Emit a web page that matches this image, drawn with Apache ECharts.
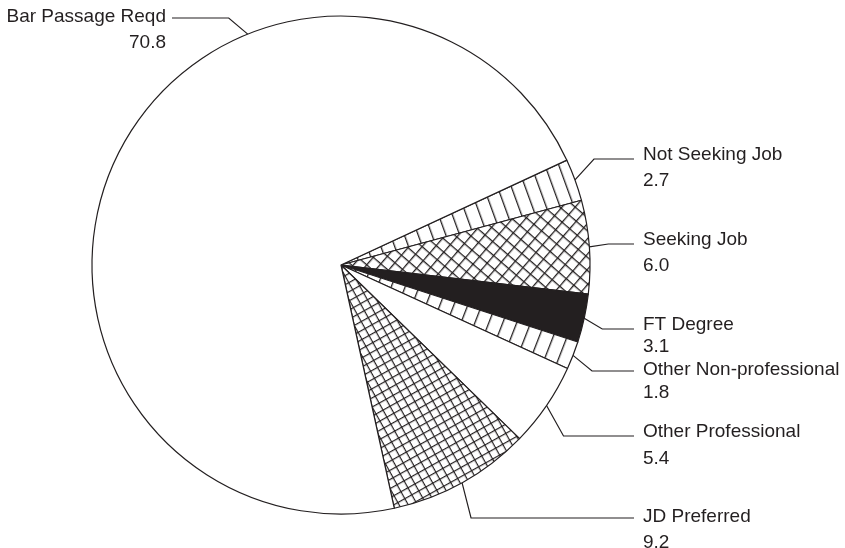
<!DOCTYPE html>
<html>
<head>
<meta charset="utf-8">
<title>Employment status</title>
<script src="https://cdn.jsdelivr.net/npm/echarts@6/dist/echarts.min.js"></script>
<style>
  html, body { margin: 0; padding: 0; background: #ffffff; }
  #chart { width: 845px; height: 548px; }
</style>
</head>
<body>
<div id="chart"></div>
<script>
// Slices, listed clockwise starting just below the large white slice
const categories = ['Not Seeking Job', 'Seeking Job', 'FT Degree', 'Other Non-professional',
                    'Other Professional', 'JD Preferred', 'Bar Passage Reqd'];
const shares = [2.7, 6.0, 3.1, 1.8, 5.4, 9.2, 70.8];

// Fill style for each slice
const fills = ['stripes', 'coarseGrid', 'solid', 'stripes', 'plain', 'fineGrid', 'plain'];

// Label placement: y of the first text line's centre, spacing of the two
// text lines, y of the leader's horizontal run, horizontal offset of the
// leader's elbow, and (optionally) the angle where the leader meets the rim
const labelTextY  = [155, 240, 325, 370, 432, 517, 17];
const labelLineH  = [26, 26, 22, 23, 27, 26, 26];
const leaderY     = [159, 244, 329, 371, 436, 518, 18];
const elbowDx     = [19, 19, 18, 19, 17, 9, -19];
const leaderAngle = [null, null, null, null, null, null, 112];

const INK = '#231f20';
const CX = 341, CY = 265, R = 249;
const START_ANGLE = 24.9;

function tile(size, lw, both) {
  const c = document.createElement('canvas');
  c.width = size; c.height = size;
  const g = c.getContext('2d');
  g.fillStyle = '#ffffff';
  g.fillRect(0, 0, size, size);
  g.fillStyle = INK;
  g.fillRect(0, 0, lw, size);
  if (both) g.fillRect(0, 0, size, lw);
  return c;
}

const total = shares.reduce((a, b) => a + b, 0);
let acc = 0;
const seriesData = categories.map((name, i) => {
  const mid = START_ANGLE - (acc + shares[i] / 2) / total * 360;
  acc += shares[i];
  const rad = -mid * Math.PI / 180;
  let color;
  switch (fills[i]) {
    case 'stripes':    color = { image: tile(13, 1.3, false), repeat: 'repeat', rotation: rad }; break;
    case 'coarseGrid': color = { image: tile(10, 1.3, true), repeat: 'repeat', rotation: rad + Math.PI / 4 }; break;
    case 'fineGrid':   color = { image: tile(8, 1.2, true), repeat: 'repeat', rotation: rad }; break;
    case 'solid':      color = INK; break;
    default:           color = '#ffffff';
  }
  return {
    name,
    value: shares[i],
    itemStyle: { color },
    label: { lineHeight: labelLineH[i] }
  };
});

const chart = echarts.init(document.getElementById('chart'), null, { renderer: 'canvas' });
chart.setOption({
  backgroundColor: '#ffffff',
  animation: false,
  series: [{
    type: 'pie',
    center: [CX, CY],
    radius: [0, R],
    startAngle: START_ANGLE,
    clockwise: true,
    avoidLabelOverlap: false,
    silent: true,
    data: seriesData,
    itemStyle: { borderColor: INK, borderWidth: 1.2 },
    label: {
      show: true,
      position: 'outside',
      formatter: p => p.name + '\n' + p.value.toFixed(1),
      color: INK,
      fontFamily: 'Liberation Sans, Arial, Helvetica, sans-serif',
      fontSize: 19
    },
    labelLine: {
      show: true,
      length: 15,
      length2: 20,
      lineStyle: { color: INK, width: 1.2 }
    },
    labelLayout: function (params) {
      const i = params.dataIndex;
      const pts = params.labelLinePoints;
      if (!pts) return {};
      let edge = pts[0];
      if (leaderAngle[i] != null) {
        const a = leaderAngle[i] * Math.PI / 180;
        edge = [CX + R * Math.cos(a), CY - R * Math.sin(a)];
      }
      const right = elbowDx[i] > 0;
      const elbow = [edge[0] + elbowDx[i], leaderY[i]];
      const end = [right ? 634 : 172, leaderY[i]];
      return {
        x: right ? 643 : 166,
        y: labelTextY[i] - labelLineH[i] / 2,
        align: right ? 'left' : 'right',
        verticalAlign: 'top',
        labelLinePoints: [edge, elbow, end]
      };
    }
  }]
});
</script>
</body>
</html>
